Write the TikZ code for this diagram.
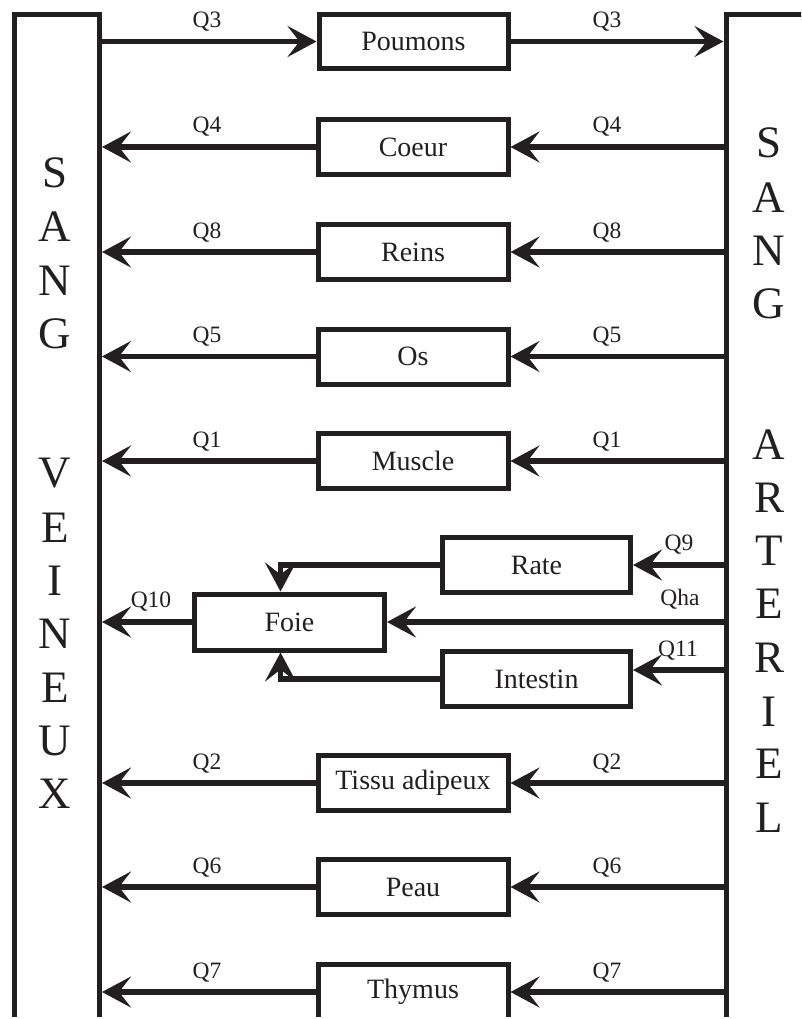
\documentclass[tikz,border=0pt]{standalone}
\usepackage{fontspec}
\setmainfont{Liberation Serif}
\usetikzlibrary{arrows.meta}
\definecolor{ink}{HTML}{231F20}
\begin{document}
\begin{tikzpicture}[x=1pt,y=-1pt,line join=miter,
  organ/.style={draw=ink,line width=5pt,minimum width=190pt,minimum height=55pt,inner sep=0pt,font=\fontsize{28}{30}\selectfont,text=ink},
  blood/.style={draw=ink,line width=5pt,inner sep=0pt},
  flow/.style={draw=ink,line width=5.5pt,-{Stealth[length=29pt,width=31pt,inset=12pt]}},
  qlab/.style={font=\fontsize{23.5}{25}\selectfont,text=ink,anchor=base,inner sep=0pt},
  letter/.style={font=\fontsize{45}{50}\selectfont,text=ink,anchor=base,inner sep=0pt}]
\useasboundingbox (0,0) rectangle (801,1019);
\clip (0,0) rectangle (801,1016);
% blood compartments
\node[blood,minimum width=85pt,minimum height=1200pt] (ven) at (57,614.5) {};
\node[blood,minimum width=110pt,minimum height=1200pt] (art) at (781,614.5) {};
% vertical words
\foreach \l/\y [count=\i] in {S/187,A/241,N/295,G/348,V/487,E/542,I/595,N/648,E/702,U/755,X/808}
  \node[letter] (v\i) at (55,\y) {\l};
\foreach \l/\y [count=\i] in {S/158,A/212,N/265,G/318,A/459,R/512,T/565,E/618,R/672,I/726,E/778,L/832}
  \node[letter] (a\i) at (769,\y) {\l};
% lungs
\node[organ,minimum width=189pt,minimum height=54pt] (poumons) at (413.5,41.5) {Poumons};
\draw[flow] (ven.east |- poumons.west) -- (poumons.west);
\draw[flow] (poumons.east) -- (poumons.east -| art.west);
\node[qlab] (ql3) at (207,28) {Q3};
\node[qlab] (qr3) at (607,28) {Q3};
% regular organs
\foreach \n/\t/\y/\q in {coeur/Coeur/147/Q4,reins/Reins/252/Q8,os/Os/356.5/Q5,muscle/Muscle/461/Q1,tissu/Tissu adipeux/783/Q2,peau/Peau/887/Q6,thymus/Thymus/992/Q7}{
  \node[organ] (\n) at (413,\y) {\t};
  \draw[flow] (art.west |- \n.east) -- (\n.east);
  \draw[flow] (\n.west) -- (\n.west -| ven.east);
  \node[qlab] (ql\n) at (207,\y-14) {\q};
  \node[qlab] (qr\n) at (607,\y-14) {\q};
}
% liver section
\node[organ,minimum width=188pt] (rate) at (536.5,565) {Rate};
\node[organ,minimum height=56pt] (foie) at (289.5,622) {Foie};
\node[organ,minimum width=188pt] (intestin) at (536.5,679) {Intestin};
\coordinate (intin) at ([yshift=9pt]intestin.east);
\coordinate (foietop) at ([xshift=-9pt]foie.north);
\coordinate (foiebot) at ([xshift=-9pt]foie.south);
\draw[flow] (art.west |- rate.east) -- (rate.east);
\draw[flow] (art.west |- foie.east) -- (foie.east);
\draw[flow] (art.west |- intin) -- (intin);
\draw[flow] (rate.west) -| (foietop);
\draw[flow] (intestin.west) -| (foiebot);
\draw[flow] (foie.west) -- (foie.west -| ven.east);
\node[qlab] (q9) at (679,550) {Q9};
\node[qlab] (qha) at (680,605) {Qha};
\node[qlab] (q11) at (678,656) {Q11};
\node[qlab] (q10) at (151,607) {Q10};
\end{tikzpicture}
\end{document}
